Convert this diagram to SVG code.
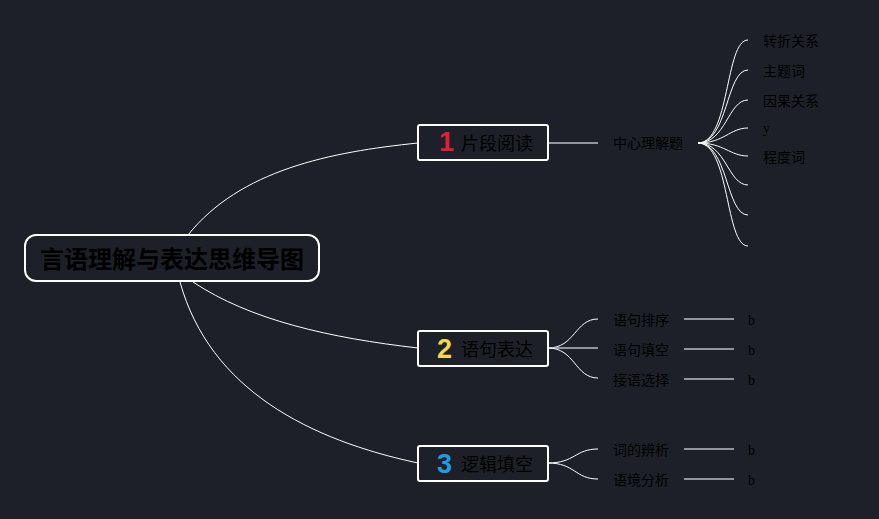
<svg xmlns="http://www.w3.org/2000/svg" width="879" height="519" viewBox="0 0 879 519">
<style>
.bg{fill:#1d2029}
.box{fill:#1d2029;stroke:#ffffff;stroke-width:2}
.conn{fill:none;stroke:#ffffff;stroke-width:1}
.line{fill:none;stroke:#b8bcc4;stroke-width:1.5}
.root{font-family:"Noto Sans CJK SC","Noto Sans",sans-serif;font-weight:bold;font-size:24px;fill:#000}
.main{font-family:"Noto Sans CJK SC","Noto Sans",sans-serif;font-size:18px;fill:#000}
.num{font-family:"Liberation Sans",Arial,sans-serif;font-weight:bold;font-size:27px}
.lab{font-family:"Noto Sans CJK SC","Noto Sans",sans-serif;font-size:14px;fill:#000}
.ser{font-family:"Liberation Serif",serif;font-size:14px;fill:#000}
</style>
<rect class="bg" x="0" y="0" width="879" height="519"/>
<g id="connectors">
<path class="conn" d="M188,235 C240,170 330,152 418,143"/>
<path class="conn" d="M193,282 C250,320 330,338 418,348"/>
<path class="conn" d="M180,282 C210,390 310,440 418,463"/>
<path class="line" d="M548,143 H598"/>
<path class="conn" d="M698,143 C730,143 725,40 748,40"/>
<path class="conn" d="M698,143 C728,143 726,70 748,70"/>
<path class="conn" d="M698,143 C726,143 728,100 748,100"/>
<path class="conn" d="M698,143 C724,143 730,128 748,128"/>
<path class="conn" d="M698,143 C724,143 730,156 748,156"/>
<path class="conn" d="M698,143 C726,143 728,185 748,185"/>
<path class="conn" d="M698,143 C728,143 726,215 748,215"/>
<path class="conn" d="M698,143 C730,143 725,246 748,246"/>
<path class="conn" d="M548,348 C575,348 575,319 598,319"/>
<path class="line" d="M548,348 H598"/>
<path class="conn" d="M548,348 C575,348 575,378 598,378"/>
<path class="line" d="M684,319 H734 M684,349 H734 M684,379 H734"/>
<path class="conn" d="M548,463 C575,463 575,449 598,449"/>
<path class="conn" d="M548,463 C575,463 575,479 598,479"/>
<path class="line" d="M684,449 H734 M684,479 H734"/>
</g>
<g id="root">
<rect class="box" x="25" y="235" width="294" height="46" rx="11"/>
<text class="root" x="172" y="268" text-anchor="middle">言语理解与表达思维导图</text>
</g>
<g id="node1">
<rect class="box" x="418" y="125" width="130" height="35" rx="2"/>
<text class="num" x="439" y="151" fill="#e01e35">1</text>
<text class="main" x="461" y="150">片段阅读</text>
</g>
<g id="node2">
<rect class="box" x="418" y="331" width="130" height="35" rx="2"/>
<text class="num" x="437" y="358" fill="#f3d84a">2</text>
<text class="main" x="461" y="356">语句表达</text>
</g>
<g id="node3">
<rect class="box" x="418" y="446" width="130" height="35" rx="2"/>
<text class="num" x="437" y="473" fill="#1f9be0">3</text>
<text class="main" x="461" y="471">逻辑填空</text>
</g>
<g id="n1a"><text class="lab" x="613" y="148">中心理解题</text></g>
<g id="n1a1"><text class="lab" x="763" y="46">转折关系</text></g>
<g id="n1a2"><text class="lab" x="763" y="76">主题词</text></g>
<g id="n1a3"><text class="lab" x="763" y="106">因果关系</text></g>
<g id="n1a4"><text class="ser" x="763" y="133">y</text></g>
<g id="n1a5"><text class="lab" x="763" y="162">程度词</text></g>
<g id="n2a"><text class="lab" x="613" y="325">语句排序</text><text class="ser" x="748" y="325">b</text></g>
<g id="n2b"><text class="lab" x="613" y="355">语句填空</text><text class="ser" x="748" y="355">b</text></g>
<g id="n2c"><text class="lab" x="613" y="385">接语选择</text><text class="ser" x="748" y="385">b</text></g>
<g id="n3a"><text class="lab" x="613" y="455">词的辨析</text><text class="ser" x="748" y="455">b</text></g>
<g id="n3b"><text class="lab" x="613" y="485">语境分析</text><text class="ser" x="748" y="485">b</text></g>
</svg>
